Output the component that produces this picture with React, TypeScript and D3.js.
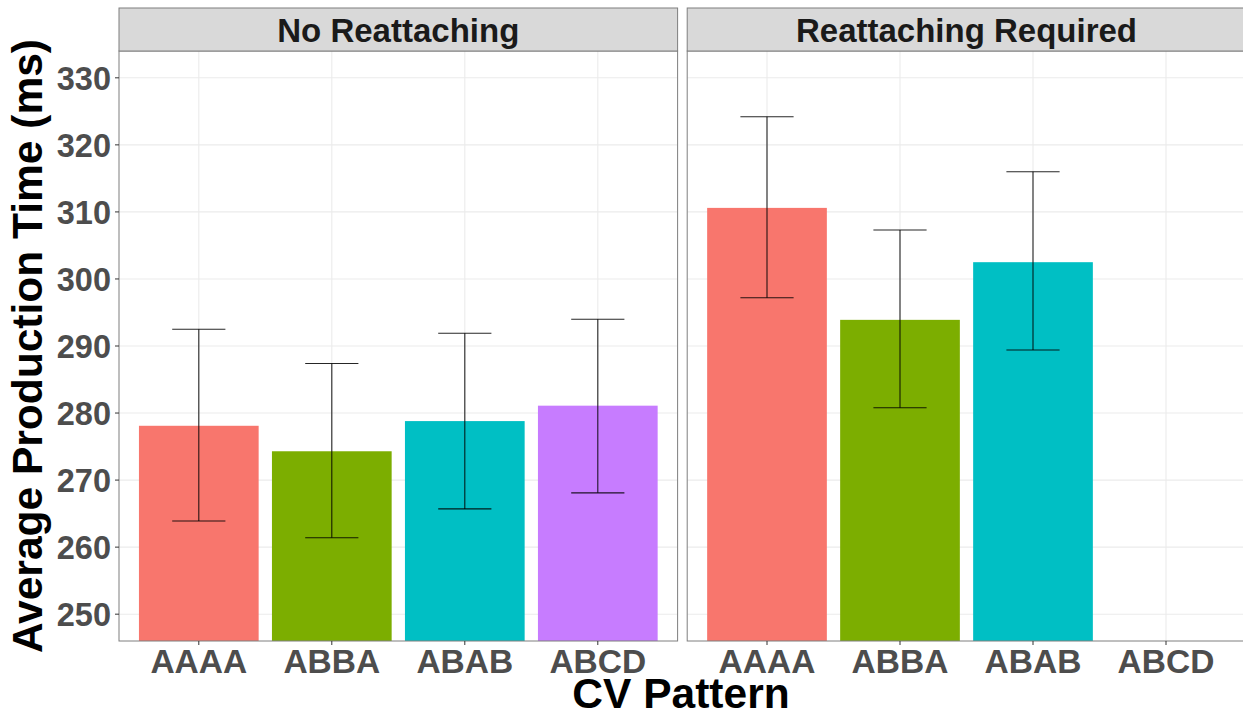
import React from "react";
import * as d3 from "d3";

const patterns = ["AAAA", "ABBA", "ABAB", "ABCD"];
const facets = ["No Reattaching", "Reattaching Required"];
const colors = ["#F8766D", "#7CAE00", "#00BFC4", "#C77CFF"];

// values per facet (null = no bar)
const noReattachMean = [278.1, 274.3, 278.8, 281.1];
const noReattachLow = [263.9, 261.4, 265.7, 268.1];
const noReattachHigh = [292.5, 287.4, 291.9, 294.0];

const reattachMean = [310.6, 293.9, 302.5, null];
const reattachLow = [297.2, 280.8, 289.4, null];
const reattachHigh = [324.2, 307.3, 316.0, null];

const yTicks = [250, 260, 270, 280, 290, 300, 310, 320, 330];

const W = 1243;
const H = 717;
const FONT = "'Liberation Sans', Arial, Helvetica, sans-serif";

export default function App() {
  const panelTop = 51;
  const panelBottom = 641;
  const stripTop = 8;
  const panels = [
    { x0: 119, x1: 677.6, mean: noReattachMean, low: noReattachLow, high: noReattachHigh },
    { x0: 687.2, x1: 1245.8, mean: reattachMean, low: reattachLow, high: reattachHigh },
  ];
  const y = d3.scaleLinear().domain([246, 334]).range([panelBottom, panelTop]);
  const border = "#7F7F7F";

  return (
    <svg width={W} height={H} style={{ position: "absolute", left: 0, top: 0, background: "#fff" }}>
      <defs>
        {panels.map((p, i) => (
          <clipPath id={`clip${i}`} key={i}>
            <rect x={p.x0} y={panelTop} width={p.x1 - p.x0} height={panelBottom - panelTop} />
          </clipPath>
        ))}
      </defs>
      {panels.map((p, pi) => {
        // ggplot discrete expansion: positions 1..4 on range [0.4, 4.6]
        const xs = d3.scaleLinear().domain([0.4, 4.6]).range([p.x0, p.x1]);
        const unit = xs(1) - xs(0);
        const cx = (k: string) => xs(patterns.indexOf(k) + 1);
        const barW = 0.9 * unit;
        const capW = 0.4 * unit;
        return (
          <g key={pi}>
            <rect x={p.x0} y={panelTop} width={p.x1 - p.x0} height={panelBottom - panelTop} fill="#fff" />
            <g clipPath={`url(#clip${pi})`}>
              {yTicks.map((t) => (
                <line key={t} x1={p.x0} x2={p.x1} y1={y(t)} y2={y(t)} stroke="#EBEBEB" strokeWidth={1.1} />
              ))}
              {patterns.map((k) => (
                <line key={k} x1={cx(k)} x2={cx(k)} y1={panelTop} y2={panelBottom} stroke="#EBEBEB" strokeWidth={1.1} />
              ))}
              {patterns.map((k, i) =>
                p.mean[i] == null ? null : (
                  <rect
                    key={k}
                    x={cx(k) - barW / 2}
                    y={y(p.mean[i] as number)}
                    width={barW}
                    height={panelBottom + 5 - y(p.mean[i] as number)}
                    fill={colors[i]}
                  />
                )
              )}
              {patterns.map((k, i) =>
                p.mean[i] == null ? null : (
                  <g key={k} stroke="#000" strokeWidth={1.1} strokeOpacity={0.85}>
                    <line x1={cx(k)} x2={cx(k)} y1={y(p.high[i] as number)} y2={y(p.low[i] as number)} />
                    <line x1={cx(k) - capW / 2} x2={cx(k) + capW / 2} y1={y(p.high[i] as number)} y2={y(p.high[i] as number)} />
                    <line x1={cx(k) - capW / 2} x2={cx(k) + capW / 2} y1={y(p.low[i] as number)} y2={y(p.low[i] as number)} />
                  </g>
                )
              )}
            </g>
            <rect
              x={p.x0}
              y={panelTop}
              width={p.x1 - p.x0}
              height={panelBottom - panelTop}
              fill="none"
              stroke={border}
              strokeWidth={1}
            />
            {/* strip */}
            <rect x={p.x0} y={stripTop} width={p.x1 - p.x0} height={panelTop - stripTop} fill="#D9D9D9" stroke={border} strokeWidth={1} />
            <text
              x={(p.x0 + p.x1) / 2}
              y={42}
              textAnchor="middle"
              fontFamily={FONT}
              fontWeight="bold"
              fontSize={33}
              fill="#1A1A1A"
            >
              {facets[pi]}
            </text>
            {/* x ticks */}
            {patterns.map((k) => (
              <g key={k}>
                <line x1={cx(k)} x2={cx(k)} y1={panelBottom} y2={panelBottom + 4} stroke="#333" strokeWidth={1} />
                <text
                  x={cx(k)}
                  y={673}
                  textAnchor="middle"
                  fontFamily={FONT}
                  fontWeight="bold"
                  fontSize={33.5}
                  fill="#4D4D4D"
                >
                  {k}
                </text>
              </g>
            ))}
          </g>
        );
      })}
      {/* y axis ticks */}
      {yTicks.map((t) => (
        <g key={t}>
          <line x1={115} x2={119} y1={y(t)} y2={y(t)} stroke="#333" strokeWidth={1} />
          <text
            x={111}
            y={y(t)}
            dy="0.36em"
            textAnchor="end"
            fontFamily={FONT}
            fontWeight="bold"
            fontSize={32.5}
            fill="#4D4D4D"
          >
            {t}
          </text>
        </g>
      ))}
      <text
        transform={`translate(42, ${(panelTop + panelBottom) / 2}) rotate(-90)`}
        textAnchor="middle"
        fontFamily={FONT}
        fontWeight="bold"
        fontSize={42.5}
        fill="#000"
      >
        Average Production Time (ms)
      </text>
      <text
        x={(119 + 1243) / 2}
        y={708}
        textAnchor="middle"
        fontFamily={FONT}
        fontWeight="bold"
        fontSize={42.5}
        fill="#000"
      >
        CV Pattern
      </text>
    </svg>
  );
}
